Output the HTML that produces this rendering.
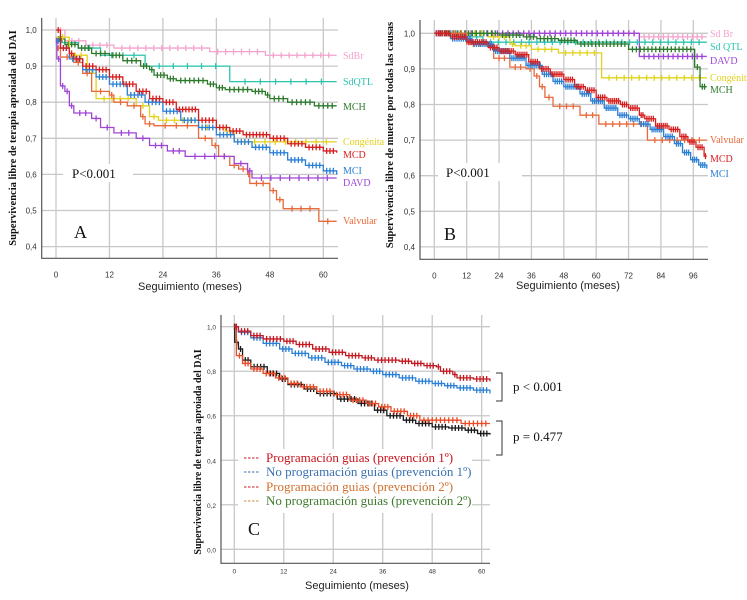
<!DOCTYPE html>
<html><head><meta charset="utf-8"><style>
html,body{margin:0;padding:0;background:#fff;}
svg{display:block;}
text{font-family:"Liberation Serif",serif;}
.sans{font-family:"Liberation Sans",sans-serif;}
</style></head><body>
<svg id="fig" width="747" height="600" viewBox="0 0 747 600" xmlns="http://www.w3.org/2000/svg"></svg>
<script>
// ---------- Panel A data ----------
const aTimes_SdBr=[0,2,6.7,13,34.5,47,63]; const aVals_SdBr=[1.0,0.97,0.958,0.95,0.94,0.93,0.93];
const aTimes_SdQTL=[0,1,5,10,20,39,63]; const aVals_SdQTL=[0.975,0.965,0.95,0.93,0.90,0.857,0.857];
const aTimes_MCH=[0,2,5,8,12,15,19,21,22,25,27,34,36,38,44,47,48,52,58,63]; const aVals_MCH=[0.975,0.96,0.95,0.935,0.93,0.915,0.90,0.89,0.875,0.865,0.86,0.85,0.84,0.835,0.83,0.82,0.81,0.80,0.79,0.79];
const aTimes_MCD=[0,1,3,4,6,9,12,15,18,21,24,27,32,36,39,42,48,52,56,60,63]; const aVals_MCD=[1.0,0.95,0.935,0.92,0.90,0.89,0.87,0.85,0.83,0.81,0.80,0.78,0.75,0.73,0.72,0.71,0.70,0.685,0.675,0.665,0.66];
const aTimes_MCI=[0,1,3,6,9,12,16,20,24,28,32,36,40,44,48,52,56,60,63]; const aVals_MCI=[0.97,0.95,0.92,0.89,0.87,0.85,0.82,0.80,0.775,0.75,0.73,0.71,0.69,0.675,0.66,0.64,0.625,0.61,0.60];
const aTimes_Cong=[0,3,7,9,18,21,23,32,38,40,63]; const aVals_Cong=[0.98,0.93,0.88,0.81,0.79,0.76,0.75,0.73,0.72,0.69,0.69];
const aTimes_Valv=[0,1,4,6,8,12,13,16,19,20,22,32,35,36.5,39,41,43,43.5,48,49.5,51,59,63]; const aVals_Valv=[0.95,0.925,0.91,0.88,0.83,0.82,0.80,0.79,0.76,0.74,0.735,0.70,0.68,0.65,0.625,0.615,0.60,0.575,0.555,0.53,0.505,0.47,0.47];
const aTimes_DAVD=[0,0.2,1,2,3,4,8,10,13,18,21,25,29,40,43,44,63]; const aVals_DAVD=[0.97,0.92,0.845,0.83,0.79,0.77,0.755,0.73,0.715,0.70,0.68,0.665,0.65,0.63,0.61,0.59,0.59];
// ---------- Panel B data ----------
const bTimes_SdBr=[0,76,101]; const bVals_SdBr=[1.0,0.99,0.99];
const bTimes_SdQTL=[0,11,18,101]; const bVals_SdQTL=[1.0,0.99,0.975,0.975];
const bTimes_DAVD=[0,76,101]; const bVals_DAVD=[1.0,0.935,0.935];
const bTimes_Cong=[0,20,28,30,36,46,62,101]; const bVals_Cong=[1.0,0.99,0.97,0.965,0.955,0.945,0.875,0.875];
const bTimes_MCH=[0,24,33,38,46,53,72,96.5,98.5,101]; const bVals_MCH=[1.0,0.995,0.99,0.985,0.98,0.97,0.955,0.905,0.85,0.85];
const bTimes_MCD=[0,6,12,20,24,30,35,39,43,48,52,56,60,64,69,72,76,78,82,87,91,94,97,100,101]; const bVals_MCD=[1.0,0.99,0.975,0.96,0.95,0.94,0.92,0.90,0.885,0.87,0.85,0.84,0.82,0.81,0.80,0.79,0.77,0.76,0.74,0.73,0.71,0.695,0.68,0.655,0.655];
const bTimes_MCI=[0,6,14,22,28,34,40,44,48,54,58,63,68,72,76,80,85,89,92,95,98,101]; const bVals_MCI=[1.0,0.985,0.97,0.95,0.93,0.91,0.885,0.865,0.85,0.83,0.81,0.79,0.77,0.76,0.745,0.73,0.71,0.69,0.665,0.645,0.63,0.62];
const bTimes_Valv=[0,12,22,28,34,37,39,41,44,54,61,79,101]; const bVals_Valv=[1.0,0.97,0.93,0.905,0.90,0.88,0.85,0.82,0.795,0.77,0.745,0.70,0.70];
// ---------- Panel C data ----------
const cTimes_P1=[0,1,4,7,12,15,19,23,27,31,34,40,43,46,49,50,53,54,58,62]; const cVals_P1=[1.0,0.98,0.96,0.945,0.935,0.92,0.90,0.885,0.87,0.86,0.85,0.845,0.835,0.825,0.82,0.80,0.785,0.77,0.765,0.755];
const cTimes_N1=[0,1,4,7,11,14,18,22,26,29,33,36,40,44,48,51,54,58,62]; const cVals_N1=[1.0,0.975,0.95,0.925,0.90,0.88,0.86,0.84,0.825,0.81,0.80,0.785,0.77,0.755,0.745,0.735,0.725,0.715,0.70];
const cTimes_P2=[0,0.5,2,4,7,10,13,16,20,24,28,32,35,38,42,45,55,62]; const cVals_P2=[1.0,0.87,0.835,0.81,0.79,0.77,0.745,0.73,0.71,0.695,0.67,0.655,0.64,0.62,0.60,0.58,0.565,0.565];
const cTimes_N2=[0,0.1,1,2,4,8,11,13,17,20,25,30,34,37,41,44,48,52,56,59,62]; const cVals_N2=[1.0,0.93,0.90,0.85,0.82,0.79,0.765,0.74,0.72,0.70,0.675,0.655,0.625,0.60,0.58,0.565,0.55,0.545,0.535,0.52,0.515];
// ticks
const aXTicks=[0,12,24,36,48,60]; const aYTicks=[0.4,0.5,0.6,0.7,0.8,0.9,1.0];
const bXTicks=[0,12,24,36,48,60,72,84,96]; const bYTicks=[0.4,0.5,0.6,0.7,0.8,0.9,1.0];
const cXTicks=[0,12,24,36,48,60]; const cYTicks=[0.0,0.2,0.4,0.6,0.8,1.0];

const NS="http://www.w3.org/2000/svg";
const svg=document.getElementById('fig');
function mk(tag,attrs,parent){const e=document.createElementNS(NS,tag);for(const k in attrs)e.setAttribute(k,attrs[k]);(parent||svg).appendChild(e);return e;}

function panel(cfg){
  const g=mk('g',{});
  
  
  const sx=t=>cfg.x0+(t-cfg.t0)*cfg.kx;
  const sy=v=>cfg.y1+(1-v)*cfg.ky;
  cfg.yTicks.forEach(v=>{
    const l=mk('line',{x1:cfg.left,x2:cfg.right,y1:sy(v),y2:sy(v),stroke:'#c8c8c8','stroke-width':1.3},g);
    
    
    const t=mk('text',{x:cfg.left-5,y:sy(v)+3,'text-anchor':'end','font-size':cfg.tickFs,fill:'#333',class:'sans'},g);
    t.textContent=v.toFixed(1).replace('.',',');
    
    
  });
  cfg.xTicks.forEach(tk=>{
    const l=mk('line',{x1:sx(tk),x2:sx(tk),y1:cfg.top,y2:cfg.bottom,stroke:'#c8c8c8','stroke-width':1.3},g);
    
    
    const t=mk('text',{x:sx(tk),y:cfg.bottom+cfg.tickOff,'text-anchor':'middle','font-size':cfg.tickFs,fill:'#333',class:'sans'},g);
    t.textContent=tk;
    
    
  });
  const ax=mk('path',{d:`M${cfg.left},${cfg.top} V${cfg.bottom} H${cfg.right}`,fill:'none',stroke:'#555','stroke-width':1.2},g);
  
  
  (cfg.boxes||[]).forEach(b=>{mk('rect',{x:b[0],y:b[1],width:b[2],height:b[3],fill:'#fff'},g);});
  cfg.series.forEach(s=>{
    let d=`M${sx(s.t[0])},${sy(s.v[0])}`;
    for(let i=1;i<s.t.length;i++){d+=` H${sx(s.t[i])} V${sy(s.v[i])}`;}
    const p=mk('path',{d:d,fill:'none',stroke:s.c,'stroke-width':1.3},g);
    
    
    for(let i=0;i<s.t.length-1;i++){
      const n=Math.max(1,Math.round((s.t[i+1]-s.t[i])/s.dens));
      for(let j=1;j<=n;j++){
        const tt=s.t[i]+(s.t[i+1]-s.t[i])*j/(n+1);
        const x=sx(tt),y=sy(s.v[i]);
        const m=mk('path',{d:`M${x},${y-3} V${y+3}`,stroke:s.c,'stroke-width':1.3},g);
        
        
      }
    }
    if(s.label){
      const t=mk('text',{x:s.lx,y:s.ly,'font-size':10,fill:s.c},g);
      t.textContent=s.label;
      
      
    }
  });
  const xt=mk('text',{x:cfg.xtX,y:cfg.xtY,'text-anchor':'middle','font-size':11,fill:'#222',class:'sans'},g);
  xt.textContent='Seguimiento (meses)';
  
  
  const yt=mk('text',{x:0,y:0,'text-anchor':'middle','font-size':cfg.ytFs,'font-weight':'bold',fill:'#111',transform:`translate(${cfg.ytX},${cfg.ytY}) rotate(-90)`},g);
  yt.textContent=cfg.ytitle;
  
  
  if(cfg.letter){const t=mk('text',{x:cfg.letter[1],y:cfg.letter[2],'font-size':18,fill:'#111'},g);t.textContent=cfg.letter[0];
    
    }
  if(cfg.pval){const t=mk('text',{x:cfg.pval[0],y:cfg.pval[1],'font-size':13,fill:'#111'},g);t.textContent='P<0.001';
    
    }
}

panel({name:'panel-a',x0:56,t0:0,kx:4.455,y1:30,ky:361,left:41.7,right:338,top:18,bottom:258.3,tickOff:19,
  xTicks:aXTicks,yTicks:aYTicks,tickFs:8,xtX:190,xtY:290,ytX:16,ytY:138,ytFs:10.5,
  ytitle:'Supervivencia libre de terapia  aproiada del  DAI',letter:['A',74,238],pval:[72,178],
  boxes:[[63,164,70,18]],
  series:[
    {n:'sdbr',t:aTimes_SdBr,v:aVals_SdBr,c:'#f4a3cc',dens:2,label:'SdBr',lx:343,ly:59},
    {n:'sdqtl',t:aTimes_SdQTL,v:aVals_SdQTL,c:'#2cc4b0',dens:4,label:'SdQTL',lx:343,ly:85},
    {n:'mch',t:aTimes_MCH,v:aVals_MCH,c:'#2d7a2d',dens:1.2,label:'MCH',lx:343,ly:110},
    {n:'congenita',t:aTimes_Cong,v:aVals_Cong,c:'#e2d21a',dens:2.5,label:'Congénita',lx:343,ly:145},
    {n:'valvular',t:aTimes_Valv,v:aVals_Valv,c:'#e8693a',dens:3,label:'Valvular',lx:343,ly:224},
    {n:'davd',t:aTimes_DAVD,v:aVals_DAVD,c:'#a046d6',dens:2.5,label:'DAVD',lx:343,ly:186},
    {n:'mci',t:aTimes_MCI,v:aVals_MCI,c:'#2a7fd6',dens:0.9,label:'MCI',lx:343,ly:174},
    {n:'mcd',t:aTimes_MCD,v:aVals_MCD,c:'#d61e1e',dens:0.9,label:'MCD',lx:343,ly:158}
  ]});

panel({name:'panel-b',x0:434.3,t0:0,kx:2.698,y1:33.3,ky:356,left:420,right:708,top:20,bottom:259.3,tickOff:19,
  xTicks:bXTicks,yTicks:bYTicks,tickFs:8,xtX:568,xtY:289,ytX:393,ytY:135,ytFs:10.5,
  ytitle:'Supervivencia libre de muerte  por todas las causas',letter:['B',444,240],pval:[446,177],
  boxes:[[438,163,84,18]],
  series:[
    {n:'sdbr',t:bTimes_SdBr,v:bVals_SdBr,c:'#f4a3cc',dens:2,label:'Sd Br',lx:710,ly:37},
    {n:'davd',t:bTimes_DAVD,v:bVals_DAVD,c:'#a046d6',dens:2,label:'DAVD',lx:710,ly:64},
    {n:'sdqtl',t:bTimes_SdQTL,v:bVals_SdQTL,c:'#2cc4b0',dens:3,label:'Sd QTL',lx:710,ly:50},
    {n:'congenita',t:bTimes_Cong,v:bVals_Cong,c:'#e2d21a',dens:3,label:'Congénita',lx:710,ly:81},
    {n:'mch',t:bTimes_MCH,v:bVals_MCH,c:'#2d7a2d',dens:1.5,label:'MCH',lx:710,ly:93},
    {n:'valvular',t:bTimes_Valv,v:bVals_Valv,c:'#e8693a',dens:3,label:'Valvular',lx:710,ly:143},
    {n:'mci',t:bTimes_MCI,v:bVals_MCI,c:'#2a7fd6',dens:0.9,label:'MCI',lx:710,ly:177},
    {n:'mcd',t:bTimes_MCD,v:bVals_MCD,c:'#d61e1e',dens:0.9,label:'MCD',lx:710,ly:162}
  ]});

panel({name:'panel-c',x0:234.3,t0:0,kx:4.123,y1:326.7,ky:222.6,left:221,right:490,top:315,bottom:563.3,tickOff:10,
  xTicks:cXTicks,yTicks:cYTicks,tickFs:6.5,xtX:357,xtY:589,ytX:201,ytY:452,ytFs:10,
  ytitle:'Supervivencia libre de terapia  aproiada del  DAI',letter:['C',248,535],
  boxes:[[238,449,234,64]],
  series:[
    {n:'no-prog-2',t:cTimes_N2,v:cVals_N2,c:'#1a1a1a',dens:1.0},
    {n:'prog-2',t:cTimes_P2,v:cVals_P2,c:'#ea4a26',dens:1.1},
    {n:'no-prog-1',t:cTimes_N1,v:cVals_N1,c:'#2a7fd6',dens:0.9},
    {n:'prog-1',t:cTimes_P1,v:cVals_P1,c:'#c41820',dens:1.0}
  ]});

const legItems=[['Programación guias  (prevención 1º)','#c8141c','#c8141c',462],
  ['No programación guias  (prevención 1º)','#3a70b0','#3a70b0',476],
  ['Programación guias (prevención 2º)','#c8141c','#d07030',491],
  ['No programación guias (prevención 2º)','#d08a40','#3e7a2e',505]];
legItems.forEach(it=>{
  const d=mk('line',{x1:244,x2:260,y1:it[3]-4,y2:it[3]-4,stroke:it[1],'stroke-width':1,'stroke-dasharray':'2.5,1.5'});
  
  
  const t=mk('text',{x:266,y:it[3],'font-size':13,fill:it[2],'xml:space':'preserve'});
  t.textContent=it[0];
  
  
});
[[373,401,'p < 0.001',391],[421,455,'p = 0.477',441]].forEach(b=>{
  const p=mk('path',{d:`M496,${b[0]} H502 V${b[1]} H496`,fill:'none',stroke:'#333','stroke-width':1});
  
  
  const t=mk('text',{x:513,y:b[3],'font-size':13,fill:'#111'});
  t.textContent=b[2];
  
  
});
</script>
</body></html>
